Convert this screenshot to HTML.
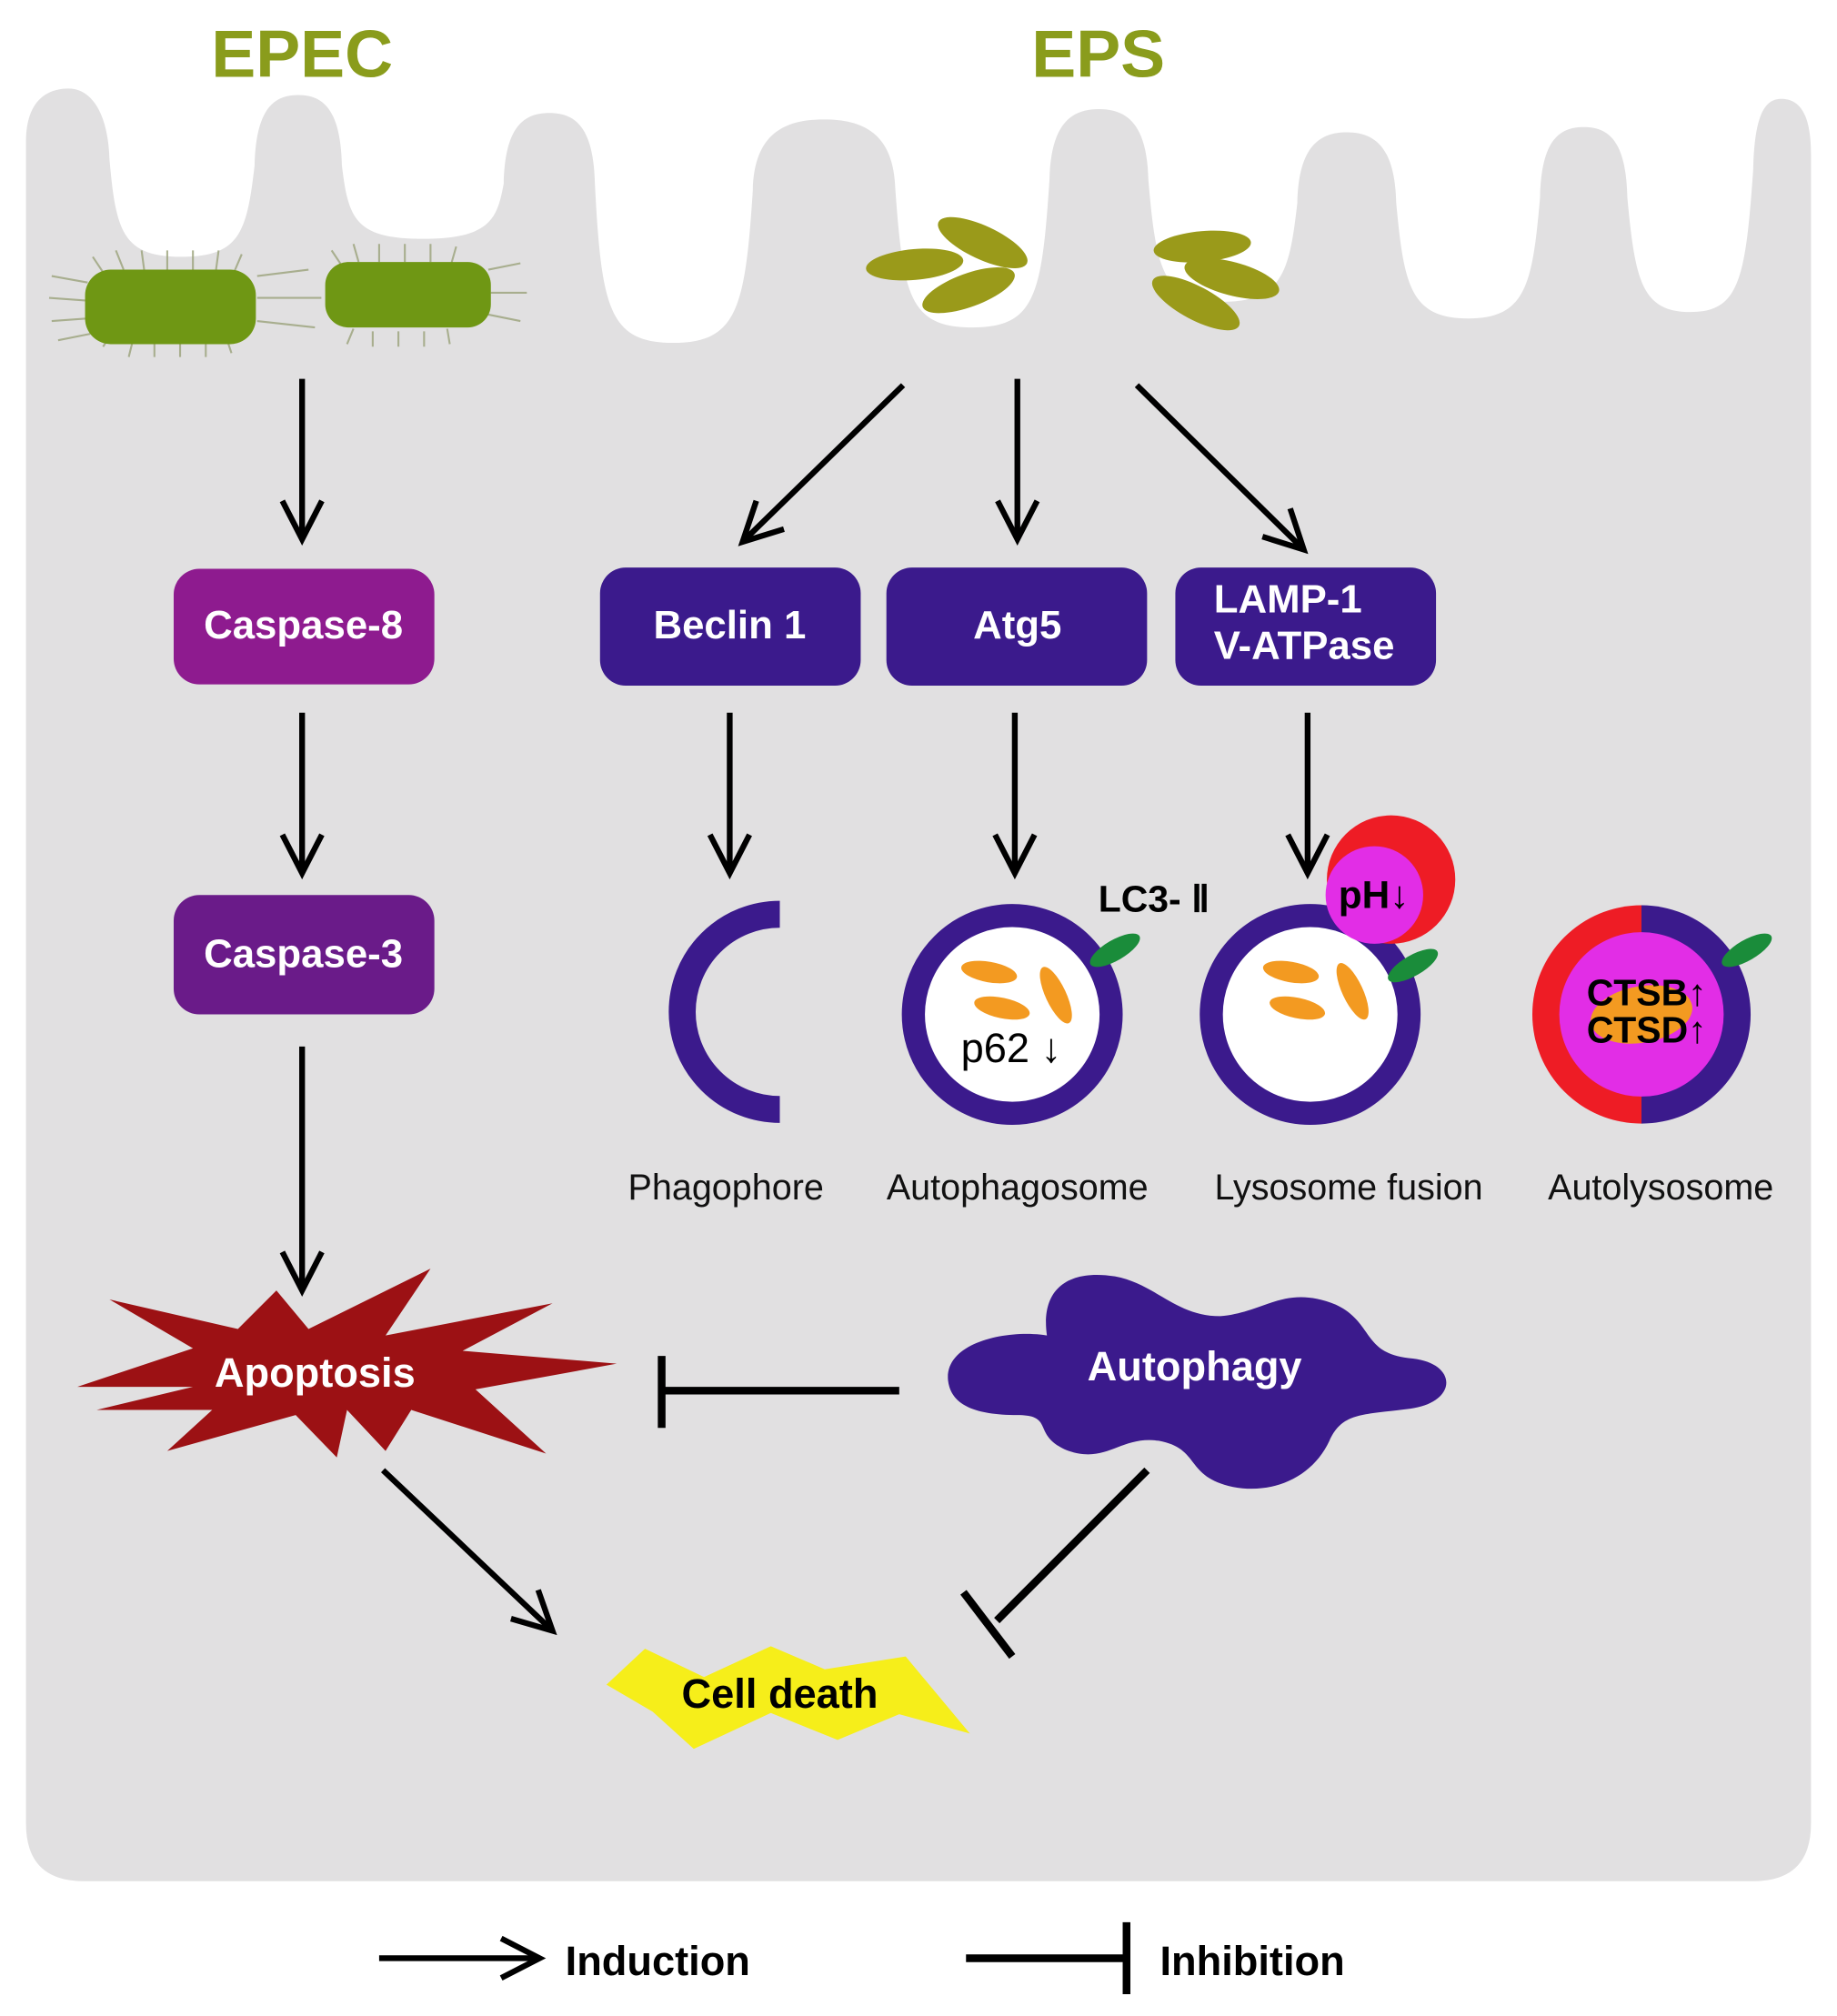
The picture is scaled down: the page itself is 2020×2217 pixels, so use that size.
<!DOCTYPE html>
<html><head><meta charset="utf-8"><style>
html,body{margin:0;padding:0;background:#fff}
svg{display:block}
text{font-family:"Liberation Sans",Arial,sans-serif}
</style></head><body>
<svg width="2020" height="2217" viewBox="0 0 1430 1570" xmlns="http://www.w3.org/2000/svg">
<defs>
<marker id="ah" viewBox="0 0 10 10" refX="8.6" refY="5" markerWidth="9" markerHeight="9" orient="auto" markerUnits="strokeWidth">
<path d="M1.2,1.2 L8.6,5 L1.2,8.8" fill="none" stroke="#000" stroke-width="1.1" stroke-linejoin="miter"/>
</marker>
</defs>
<rect width="1430" height="1570" fill="#fff"/>
<!-- cell -->
<path fill="#e1e0e1" d="M20,1420 L20,110 C20,80 35,69 53,69 C72,69 84,90 85,124
C90,180 95,200 141,200 C187,200 192,180 198,129
C199,84 213.5,74 232,74 C250.5,74 265,84 266,129
C271,170 276,186 329,186 C382,186 387,170 392,143
C393,98 408,88 427.5,88 C447,88 462,98 463,143
C468,240 474,267 524,267 C574,267 580,240 586,148
C587,103 612,93 641.5,93 C671,93 696,103 697,148
C703,230 708,255 757,255 C806,255 811,230 817,140
C818,95 835,85 855.5,85 C876,85 893,95 894,140
C900,210 905,235 952,235 C999,235 1004,210 1010,158
C1011,113 1028,103 1048.5,103 C1069,103 1086,113 1087,158
C1093,222 1098,248 1143,248 C1188,248 1193,222 1199,154
C1200,109 1214,99 1233,99 C1252,99 1266,109 1267,154
C1273,218 1278,243 1316,243 C1354,243 1359,218 1365,132
C1366,87 1375,77 1387,77 C1400,77 1410,87 1410,120 L1410,1420 Q1410,1465 1365,1465 L65,1465 Q20,1465 20,1420 Z"/>
<!-- titles -->
<text x="235" y="60" text-anchor="middle" font-size="52" font-weight="bold" fill="#8a9c1c">EPEC</text>
<text x="855" y="60" text-anchor="middle" font-size="52" font-weight="bold" fill="#8a9c1c">EPS</text>
<!-- EPEC bacteria -->
<g stroke="#9aa27a" stroke-width="1.5" opacity="0.8">
<path d="M40,215 l28,5 M38,232 l28,2 M40,250 l28,-2 M45,265 l25,-5 M72,200 l10,15 M90,195 l6,15 M110,195 l2,15 M130,195 l0,15 M150,195 l0,15 M170,195 l-2,15 M188,198 l-6,14 M80,270 l8,-12 M100,278 l3,-12 M120,278 l0,-12 M140,278 l0,-12 M160,278 l0,-12 M180,275 l-4,-12 M200,215 l40,-5 M200,232 l50,0 M200,250 l45,5 M258,195 l8,12 M275,190 l4,14 M295,190 l0,14 M315,190 l0,14 M335,190 l0,14 M355,192 l-4,14 M270,268 l5,-12 M290,270 l0,-12 M310,270 l0,-12 M330,270 l0,-12 M350,268 l-2,-12 M380,210 l25,-5 M382,228 l28,0 M380,245 l25,5"/>
</g>
<rect x="66" y="210" width="133" height="58" rx="20" fill="#6f9714"/>
<rect x="253" y="204" width="129" height="51" rx="18" fill="#6f9714"/>
<!-- EPS particles -->
<g fill="#9a9a1a">
<ellipse cx="712" cy="206" rx="38" ry="12" transform="rotate(-5 712 206)"/>
<ellipse cx="765" cy="189" rx="38" ry="13" transform="rotate(25 765 189)"/>
<ellipse cx="754" cy="226" rx="38" ry="13" transform="rotate(-20 754 226)"/>
<ellipse cx="936" cy="192" rx="38" ry="12" transform="rotate(-5 936 192)"/>
<ellipse cx="959" cy="217" rx="38" ry="13" transform="rotate(15 959 217)"/>
<ellipse cx="931" cy="236" rx="38" ry="13" transform="rotate(28 931 236)"/>
</g>
<!-- arrows -->
<g stroke="#000" stroke-width="4.5" fill="none" marker-end="url(#ah)">
<line x1="235" y1="295" x2="235" y2="420"/>
<line x1="235" y1="555" x2="235" y2="680"/>
<line x1="235" y1="815" x2="235" y2="1005"/>
<line x1="703" y1="300" x2="578" y2="422"/>
<line x1="792" y1="295" x2="792" y2="420"/>
<line x1="885" y1="300" x2="1015" y2="428"/>
<line x1="568" y1="555" x2="568" y2="680"/>
<line x1="790" y1="555" x2="790" y2="680"/>
<line x1="1018" y1="555" x2="1018" y2="680"/>
<line x1="298" y1="1145" x2="430" y2="1270"/>
<line x1="295" y1="1525" x2="420" y2="1525"/>
</g>
<!-- inhibition -->
<g stroke="#000" stroke-width="6" fill="none">
<line x1="700" y1="1083" x2="515" y2="1083"/>
<line x1="515" y1="1056" x2="515" y2="1112"/>
<line x1="893" y1="1145" x2="776" y2="1262"/>
<line x1="750" y1="1240" x2="788" y2="1290"/>
<line x1="752" y1="1525" x2="877" y2="1525"/>
<line x1="877" y1="1497" x2="877" y2="1553"/>
</g>
<!-- boxes -->
<rect x="135" y="443" width="203" height="90" rx="20" fill="#8e1b8f"/>
<text x="236" y="497" text-anchor="middle" font-size="31" font-weight="bold" fill="#fff">Caspase-8</text>
<rect x="135" y="697" width="203" height="93" rx="20" fill="#6a1b89"/>
<text x="236" y="753" text-anchor="middle" font-size="31" font-weight="bold" fill="#fff">Caspase-3</text>
<rect x="467" y="442" width="203" height="92" rx="20" fill="#3b1a8c"/>
<text x="568" y="497" text-anchor="middle" font-size="31" font-weight="bold" fill="#fff">Beclin 1</text>
<rect x="690" y="442" width="203" height="92" rx="20" fill="#3b1a8c"/>
<text x="792" y="497" text-anchor="middle" font-size="31" font-weight="bold" fill="#fff">Atg5</text>
<rect x="915" y="442" width="203" height="92" rx="20" fill="#3b1a8c"/>
<text x="945" y="477" font-size="31" font-weight="bold" fill="#fff">LAMP-1</text>
<text x="945" y="513" font-size="31" font-weight="bold" fill="#fff">V-ATPase</text>
<!-- phagophore -->
<path d="M607,712 A76,76 0 1 0 607,864" fill="none" stroke="#3b1a8c" stroke-width="21"/>
<!-- autophagosome -->
<circle cx="788" cy="790" r="77" fill="#fff" stroke="#3b1a8c" stroke-width="18"/>
<g fill="#f39a21">
<ellipse cx="770" cy="757" rx="22" ry="8" transform="rotate(10 770 757)"/>
<ellipse cx="780" cy="785" rx="22" ry="8" transform="rotate(12 780 785)"/>
<ellipse cx="822" cy="775" rx="24" ry="8" transform="rotate(65 822 775)"/>
</g>
<ellipse cx="868" cy="740" rx="22" ry="8" transform="rotate(-30 868 740)" fill="#1a8c3a"/>
<text x="748" y="827" font-size="32" fill="#000">p62 ↓</text>
<text x="855" y="710" font-size="29" font-weight="bold" fill="#000">LC3- Ⅱ</text>
<!-- lysosome fusion -->
<circle cx="1020" cy="790" r="77" fill="#fff" stroke="#3b1a8c" stroke-width="18"/>
<g fill="#f39a21">
<ellipse cx="1005" cy="757" rx="22" ry="8" transform="rotate(10 1005 757)"/>
<ellipse cx="1010" cy="785" rx="22" ry="8" transform="rotate(12 1010 785)"/>
<ellipse cx="1053" cy="772" rx="24" ry="8" transform="rotate(65 1053 772)"/>
</g>
<ellipse cx="1100" cy="752" rx="22" ry="8" transform="rotate(-30 1100 752)" fill="#1a8c3a"/>
<circle cx="1083" cy="685" r="50" fill="#ee1c25"/>
<circle cx="1070" cy="697" r="38" fill="#e22de6"/>
<text x="1042" y="707" font-size="30" font-weight="bold" fill="#000">pH↓</text>
<!-- autolysosome -->
<path d="M1278,705 A85,85 0 0 0 1278,875 Z" fill="#ee1c25"/>
<path d="M1278,705 A85,85 0 0 1 1278,875 Z" fill="#3b1a8c"/>
<circle cx="1278" cy="790" r="64" fill="#e22de6"/>
<ellipse cx="1278" cy="790" rx="40" ry="22" fill="#f39a21" transform="rotate(-10 1278 790)"/>
<ellipse cx="1360" cy="740" rx="22" ry="8" transform="rotate(-30 1360 740)" fill="#1a8c3a"/>
<text x="1282" y="783" text-anchor="middle" font-size="29" font-weight="bold" fill="#000">CTSB↑</text>
<text x="1282" y="812" text-anchor="middle" font-size="29" font-weight="bold" fill="#000">CTSD↑</text>
<!-- labels -->
<g font-size="28" fill="#111" text-anchor="middle">
<text x="565" y="934">Phagophore</text>
<text x="792" y="934">Autophagosome</text>
<text x="1050" y="934">Lysosome fusion</text>
<text x="1293" y="934">Autolysosome</text>
</g>
<!-- apoptosis -->
<polygon fill="#9c1114" points="60,1080 150,1050 85,1012 185,1035 215,1005 240,1035 335,988 300,1040 430,1015 360,1052 480,1062 370,1082 425,1132 320,1098 300,1130 270,1098 262,1135 230,1102 130,1130 165,1098 75,1098 150,1080"/>
<text x="245" y="1080" text-anchor="middle" font-size="32" font-weight="bold" fill="#fff">Apoptosis</text>
<!-- autophagy -->
<path fill="#3b1a8c" d="M738,1075 C735,1045 785,1035 815,1040 C810,1005 830,988 868,994 C900,1000 915,1025 950,1025 C985,1022 1000,1000 1040,1016 C1070,1030 1060,1055 1100,1058 C1135,1062 1135,1092 1098,1097 C1060,1102 1045,1100 1035,1122 C1022,1150 992,1164 960,1158 C922,1150 935,1128 902,1122 C872,1118 862,1140 832,1130 C802,1118 822,1102 792,1102 C755,1102 740,1092 738,1075 Z"/>
<text x="930" y="1075" text-anchor="middle" font-size="32" font-weight="bold" fill="#fff">Autophagy</text>
<!-- cell death -->
<polygon fill="#f6ee1a" points="472,1312 502,1284 548,1306 600,1282 642,1300 705,1290 755,1350 700,1335 652,1355 600,1334 540,1362 508,1333"/>
<text x="607" y="1330" text-anchor="middle" font-size="32" font-weight="bold" fill="#000">Cell death</text>
<!-- legend -->
<text x="440" y="1538" font-size="32" font-weight="bold" fill="#000">Induction</text>
<text x="903" y="1538" font-size="32" font-weight="bold" fill="#000">Inhibition</text>
</svg>
</body></html>
